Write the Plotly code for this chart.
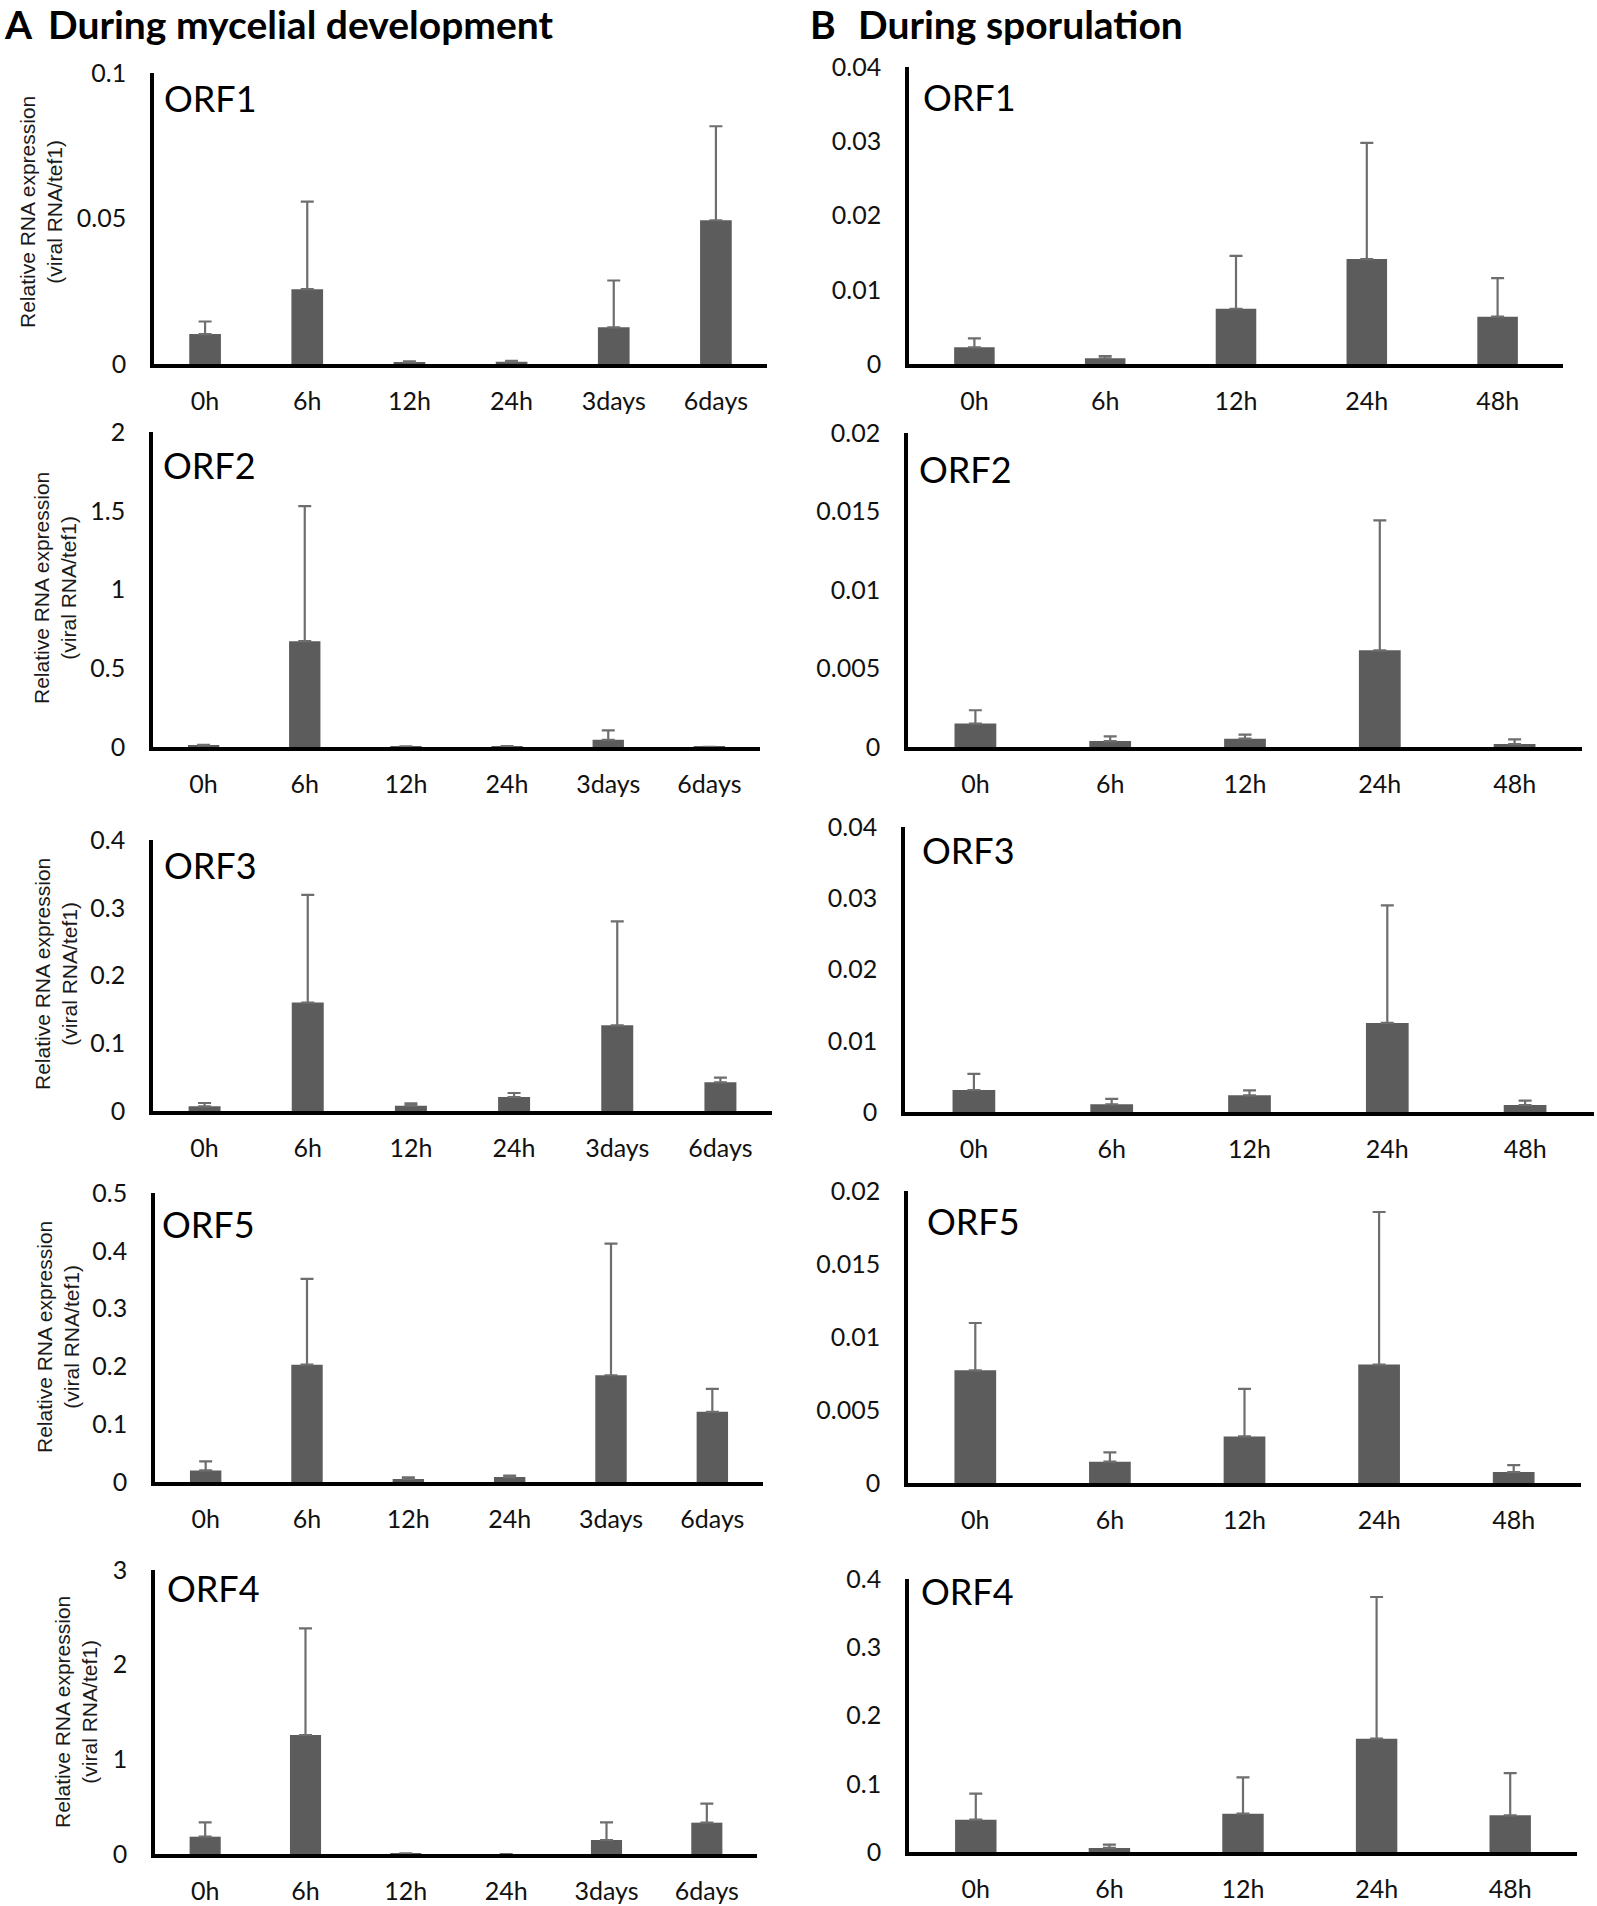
import plotly.graph_objects as go
from plotly.subplots import make_subplots

# time points
times_a = ["0h", "6h", "12h", "24h", "3days", "6days"]
times_b = ["0h", "6h", "12h", "24h", "48h"]

# A: during mycelial development (mean, upper error)
a_orf1 = [0.0103, 0.0257, 0.0006, 0.0008, 0.0126, 0.0494]
a_orf1_err = [0.0043, 0.0301, 0.0003, 0.0003, 0.0161, 0.0323]
a_orf2 = [0.012, 0.672, 0.003, 0.004, 0.046, 0.001]
a_orf2_err = [0.002, 0.857, 0.001, 0.001, 0.060, 0.0005]
a_orf3 = [0.0069, 0.160, 0.0079, 0.0207, 0.1264, 0.0423]
a_orf3_err = [0.0049, 0.159, 0.0034, 0.0059, 0.1536, 0.0069]
a_orf5 = [0.0201, 0.203, 0.0052, 0.0086, 0.1847, 0.1214]
a_orf5_err = [0.0156, 0.1485, 0.0028, 0.0024, 0.2278, 0.0396]
a_orf4 = [0.183, 1.257, 0.005, 0.0, 0.148, 0.331]
a_orf4_err = [0.151, 1.127, 0.002, 0.0, 0.186, 0.201]

# B: during sporulation
b_orf1 = [0.00224, 0.00076, 0.00744, 0.01413, 0.00637]
b_orf1_err = [0.00121, 0.00032, 0.00713, 0.01565, 0.0052]
b_orf2 = [0.00149, 0.00038, 0.00053, 0.00616, 0.00019]
b_orf2_err = [0.00085, 0.0003, 0.00026, 0.00828, 0.0003]
b_orf3 = [0.00309, 0.00108, 0.00234, 0.0125, 0.00098]
b_orf3_err = [0.00225, 0.00075, 0.0007, 0.0165, 0.00061]
b_orf5 = [0.00772, 0.00146, 0.00319, 0.00811, 0.00075]
b_orf5_err = [0.00324, 0.00064, 0.00326, 0.01045, 0.00048]
b_orf4 = [0.0474, 0.0059, 0.0562, 0.166, 0.0537]
b_orf4_err = [0.0381, 0.0048, 0.0532, 0.2076, 0.062]

# y tick values per panel
a_orf1_ticks = [0, 0.05, 0.1]
a_orf2_ticks = [0, 0.5, 1, 1.5, 2]
a_orf3_ticks = [0, 0.1, 0.2, 0.3, 0.4]
a_orf5_ticks = [0, 0.1, 0.2, 0.3, 0.4, 0.5]
a_orf4_ticks = [0, 1, 2, 3]
b_orf1_ticks = [0, 0.01, 0.02, 0.03, 0.04]
b_orf2_ticks = [0, 0.005, 0.01, 0.015, 0.02]
b_orf3_ticks = [0, 0.01, 0.02, 0.03, 0.04]
b_orf5_ticks = [0, 0.005, 0.01, 0.015, 0.02]
b_orf4_ticks = [0, 0.1, 0.2, 0.3, 0.4]

W, H = 1597, 1906


def fx(px):
    return min(1.0, max(0.0, px / W))


def fy(py):
    return min(1.0, max(0.0, 1 - py / H))


# label, cats, values, err, ticks, row, col, plot box px (left, right, top, bottom),
# ORF label position px, y-title centre px
panels = [
    ("ORF1", times_a, a_orf1, a_orf1_err, a_orf1_ticks, 1, 1, (154, 767, 73, 364), (162, 98), (41, 212)),
    ("ORF2", times_a, a_orf2, a_orf2_err, a_orf2_ticks, 2, 1, (153, 760, 432, 747), (161, 465), (55, 588)),
    ("ORF3", times_a, a_orf3, a_orf3_err, a_orf3_ticks, 3, 1, (153, 772, 840, 1111), (162, 865), (56, 974)),
    ("ORF5", times_a, a_orf5, a_orf5_err, a_orf5_ticks, 4, 1, (155, 763, 1193, 1482), (160, 1224), (58, 1337)),
    ("ORF4", times_a, a_orf4, a_orf4_err, a_orf4_ticks, 5, 1, (155, 757, 1570, 1854), (165, 1588), (76, 1712)),
    ("ORF1", times_b, b_orf1, b_orf1_err, b_orf1_ticks, 1, 2, (909, 1563, 67, 364), (921, 97), None),
    ("ORF2", times_b, b_orf2, b_orf2_err, b_orf2_ticks, 2, 2, (908, 1582, 433, 747), (917, 469), None),
    ("ORF3", times_b, b_orf3, b_orf3_err, b_orf3_ticks, 3, 2, (905, 1594, 827, 1112), (920, 850), None),
    ("ORF5", times_b, b_orf5, b_orf5_err, b_orf5_ticks, 4, 2, (908, 1581, 1191, 1483), (925, 1221), None),
    ("ORF4", times_b, b_orf4, b_orf4_err, b_orf4_ticks, 5, 2, (909, 1577, 1579, 1852), (919, 1591), None),
]

BAR = "#5c5c5c"
ERR = "#6e6e6e"
FONT = "Lato, Open Sans, sans-serif"
TICKFONT = dict(family=FONT, size=25, color="#111111")

fig = make_subplots(rows=5, cols=2)

for label, cats, vals, err, ticks, row, col, box, lab_pos, ytitle_pos in panels:
    fig.add_trace(go.Bar(
        x=cats, y=vals,
        marker=dict(color=BAR, line=dict(width=0)),
        error_y=dict(type="data", symmetric=False, array=err, arrayminus=[0] * len(err),
                     color=ERR, thickness=2.2, width=6.5),
        showlegend=False,
    ), row=row, col=col)

    left, right, top, bottom = box
    idx = (row - 1) * 2 + col
    xname = "xaxis" if idx == 1 else f"xaxis{idx}"
    yname = "yaxis" if idx == 1 else f"yaxis{idx}"
    fig.layout[xname].update(
        domain=[fx(left), fx(right)], automargin=False,
        showline=True, linecolor="black", linewidth=3.5,
        showgrid=False, ticks="", tickfont=TICKFONT, ticklabelstandoff=12,
        fixedrange=True,
    )
    fig.layout[yname].update(
        domain=[fy(bottom), fy(top)], automargin=False,
        range=[0, ticks[-1]],
        tickvals=ticks, ticktext=[f"{t:g}" for t in ticks],
        showline=True, linecolor="black", linewidth=3.5,
        showgrid=False, zeroline=False, ticks="", tickfont=TICKFONT,
        ticklabelstandoff=19,
    )

    fig.add_annotation(
        text=label, xref="paper", yref="paper",
        x=fx(lab_pos[0]), y=fy(lab_pos[1]), xanchor="left", yanchor="middle",
        showarrow=False, font=dict(family=FONT, size=36, color="black"),
    )
    if ytitle_pos is not None:
        fig.add_annotation(
            text="Relative RNA expression<br>(viral RNA/tef1)", xref="paper", yref="paper",
            x=fx(ytitle_pos[0]), y=fy(ytitle_pos[1]), xanchor="center", yanchor="middle",
            textangle=-90, showarrow=False,
            font=dict(family="Liberation Sans, Arial, sans-serif", size=21, color="#1a1a1a"),
        )

# panel headings
for letter, text, lx, tx in [("A", "During mycelial development", 2, 46),
                             ("B", "During sporulation", 808, 856)]:
    fig.add_annotation(text=f"<b>{letter}</b>", xref="paper", yref="paper",
                       x=fx(lx), y=fy(24), xanchor="left", yanchor="middle", showarrow=False,
                       font=dict(family=FONT, size=39, color="black"))
    fig.add_annotation(text=f"<b>{text}</b>", xref="paper", yref="paper",
                       x=fx(tx), y=fy(24), xanchor="left", yanchor="middle", showarrow=False,
                       font=dict(family=FONT, size=39, color="black"))

fig.update_layout(
    width=W, height=H,
    margin=dict(l=0, r=0, t=0, b=0, autoexpand=False),
    paper_bgcolor="white", plot_bgcolor="white",
    bargap=0.69,
    showlegend=False,
)

# drop the default page margin so the figure fills the window exactly
fig.write_html("out.html", config={"displayModeBar": False},
               post_script="document.body.style.margin = '0px';")
